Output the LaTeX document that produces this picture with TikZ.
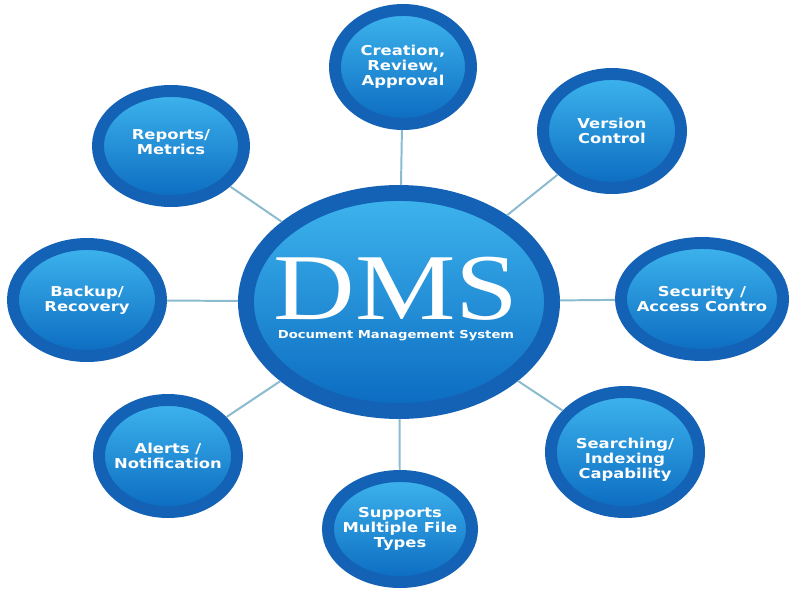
\documentclass[tikz,border=0pt]{standalone}
\usepackage{fontspec}
\usepackage{tikz}
\usetikzlibrary{positioning,shapes.geometric}
\newfontfamily\satfont[FakeStretch=1.2]{DejaVu Sans}
\newfontfamily\dmsfont[FakeStretch=1.2]{Liberation Serif}
\definecolor{ring}{HTML}{1462B5}
\definecolor{lite}{HTML}{3EB5EE}
\definecolor{deep}{HTML}{0B6AC0}
\definecolor{wire}{HTML}{8ABBCF}

\begin{document}
\begin{tikzpicture}[x=0.025cm, y=-0.025cm,
  sat/.style={ellipse, draw=ring, line width=8.5pt, outer sep=4.25pt,
              top color=lite, bottom color=deep, inner sep=0pt},
  lbl/.style={text=white, align=center, inner sep=0pt,
              font=\satfont\bfseries\fontsize{9.7}{10.6}\selectfont},
  link/.style={draw=wire, line width=1.4pt}]
  \path[use as bounding box, fill=white] (0,0) rectangle (800,600);
  % hub
  \node[sat, line width=11.3pt, outer sep=5.65pt, minimum width=7.65cm,
        minimum height=5.45cm] (dms) at (399,302) {};
  \node[text=white, inner sep=0pt, font=\dmsfont\fontsize{67}{67}\selectfont]
       (title) at (396,289) {DMS};
  \node[text=white, inner sep=0pt, below=2.2mm of title,
        font=\satfont\bfseries\fontsize{7.8}{9}\selectfont] (sub)
       {Document Management System};
  % satellites
  \node[sat, minimum width=3.40cm, minimum height=2.85cm] (cre) at (403,67) {};
  \node[sat, minimum width=3.45cm, minimum height=2.85cm] (ver) at (612,131) {};
  \node[sat, minimum width=4.05cm, minimum height=2.80cm] (sec) at (702,299) {};
  \node[sat, minimum width=3.70cm, minimum height=3.00cm] (sea) at (625,452) {};
  \node[sat, minimum width=3.60cm, minimum height=2.65cm] (sup) at (400,529) {};
  \node[sat, minimum width=3.45cm, minimum height=2.80cm] (ale) at (168,456) {};
  \node[sat, minimum width=3.70cm, minimum height=2.80cm] (bac) at (87,300) {};
  \node[sat, minimum width=3.65cm, minimum height=2.75cm] (rep) at (171,146) {};
  \node[lbl] (cret) at (cre) {Creation,\\Review,\\Approval};
  \node[lbl] (vert) at (ver) {Version\\Control};
  \node[lbl] (sect) at (sec) {Security /\\Access Contro};
  \node[lbl] (seat) at ([yshift=-2mm]sea.center) {Searching/\\Indexing\\Capability};
  \node[lbl] (supt) at (sup) {Supports\\Multiple File\\Types};
  \node[lbl] (alet) at (ale) {Alerts /\\Notification};
  \node[lbl] (bact) at (bac) {Backup/\\Recovery};
  \node[lbl] (rept) at ([yshift=1mm]rep.center) {Reports/\\Metrics};
  \foreach \s in {cre,ver,sec,sea,sup,ale,bac,rep} \draw[link] (dms) -- (\s);
\end{tikzpicture}
\end{document}
